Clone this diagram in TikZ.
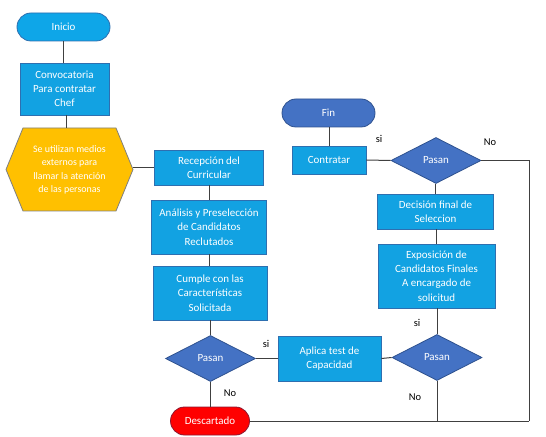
\documentclass[tikz,border=0pt]{standalone}
\usepackage{fontspec}
\setmainfont{Carlito}
\usetikzlibrary{shapes.geometric,shapes.misc}
\definecolor{boxblue}{HTML}{12A2E2}
\definecolor{boxedge}{HTML}{2E6FB0}
\definecolor{diamblue}{HTML}{4472C4}
\definecolor{diamedge}{HTML}{2F528F}
\definecolor{iniblue}{HTML}{0EA6E8}
\definecolor{hexgold}{HTML}{FFC000}
\definecolor{hexedge}{HTML}{7F7F7F}
\definecolor{redfill}{HTML}{FF0000}
\definecolor{rededge}{HTML}{8E1830}
\definecolor{linegray}{HTML}{404040}
\begin{document}
\begin{tikzpicture}[x=1bp,y=-1bp,
  base/.style={text=white, align=center, inner sep=0pt, line width=0.8bp,
    font=\fontsize{11}{14.3}\selectfont},
  box/.style={base, rectangle, draw=boxedge, fill=boxblue},
  term/.style={base, rounded rectangle, minimum width=93bp, minimum height=28bp},
  decision/.style={base, diamond, draw=diamedge, fill=diamblue, minimum width=90bp, minimum height=46bp},
  lbl/.style={font=\fontsize{10.5}{12}\selectfont, text=black, inner sep=0pt},
  conn/.style={draw=linegray, line width=1bp}
]
\useasboundingbox (0,0) rectangle (546,437);

% terminals
\node[term, draw=boxedge, fill=iniblue] (ini) at (63.5,27) {Inicio};
\node[term, draw=diamedge, fill=diamblue] (fin) at (328.5,113) {Fin};
\node[term, draw=rededge, fill=redfill, minimum width=79bp] (desc) at (210,421) {Descartado};

% boxes
\node[box, minimum width=89bp, minimum height=52bp] (conv) at (64.5,89) {Convocatoria\\Para contratar\\Chef};
\node[box, minimum width=109bp, minimum height=35bp] (rec) at (209,167.5) {Recepción del\\Curricular};
\node[box, minimum width=115bp, minimum height=54bp] (ana) at (209,227) {Análisis y Preselección\\de Candidatos\\Reclutados};
\node[box, minimum width=114bp, minimum height=54bp] (cum) at (210,293) {Cumple con las\\Características\\Solicitada};
\node[box, minimum width=103bp, minimum height=45bp] (apl) at (329.5,358.5) {Aplica test de\\Capacidad};
\node[box, minimum width=117bp, minimum height=64bp] (exp) at (436.5,276) {Exposición de\\Candidatos Finales\\A encargado de\\solicitud};
\node[box, minimum width=116bp, minimum height=35bp] (dec) at (435.5,211.5) {Decisión final de\\Seleccion};
\node[box, minimum width=74bp, minimum height=28bp] (con) at (329,160) {Contratar};

% decisions
\node[decision] (p1) at (210.5,358.5) {Pasan};
\node[decision] (p2) at (437,357.5) {Pasan};
\node[decision] (p3) at (436,160.5) {Pasan};

% hexagon
\filldraw[fill=hexgold, draw=hexedge, line width=0.8bp]
  (6,169.5) -- (23,128) -- (116,128) -- (133,169.5) -- (116,211) -- (23,211) -- cycle;
\node[base, font=\fontsize{10}{13.6}\selectfont] (hex) at (69.5,170) {Se utilizan medios\\externos para\\llamar la atención\\de las personas};
\coordinate (hexT) at (66,128);
\coordinate (hexR) at (133,167.5);

% connectors
\draw[conn] (ini.south) -- (ini.south |- conv.north);
\draw[conn] (conv.south -| hexT) -- (hexT);
\draw[conn] (hexR) -- (rec.west);
\draw[conn] (rec.south) -- (rec.south |- ana.north);
\draw[conn] (ana.south) -- (ana.south |- cum.north);
\draw[conn] (cum.south) -- (cum.south |- p1.north);
\draw[conn] (p1.south) -- (p1.south |- desc.north);
\draw[conn] (p1.east) -- (apl.west);
\draw[conn] (apl.east) -- (p2.west);
\draw[conn] (p2.north) -- (p2.north |- exp.south);
\draw[conn] (exp.north) -- (exp.north |- dec.south);
\draw[conn] (dec.north) -- (dec.north |- p3.south);
\draw[conn] (p3.west) -- (con.east);
\draw[conn] (con.north) -- (con.north |- fin.south);
\coordinate (cr) at (529,421);
\draw[conn] (p3.east) -| (cr);
\draw[conn] (desc.east) -- (cr);
\draw[conn] (p2.south) -- (p2.south |- cr);

% labels
\node[lbl] (l1) at (379,139) {si};
\node[lbl] (l2) at (490,142) {No};
\node[lbl] (l3) at (417,323) {si};
\node[lbl] (l4) at (415,397) {No};
\node[lbl] (l5) at (266,344) {si};
\node[lbl] (l6) at (230,393) {No};
\end{tikzpicture}
\end{document}
